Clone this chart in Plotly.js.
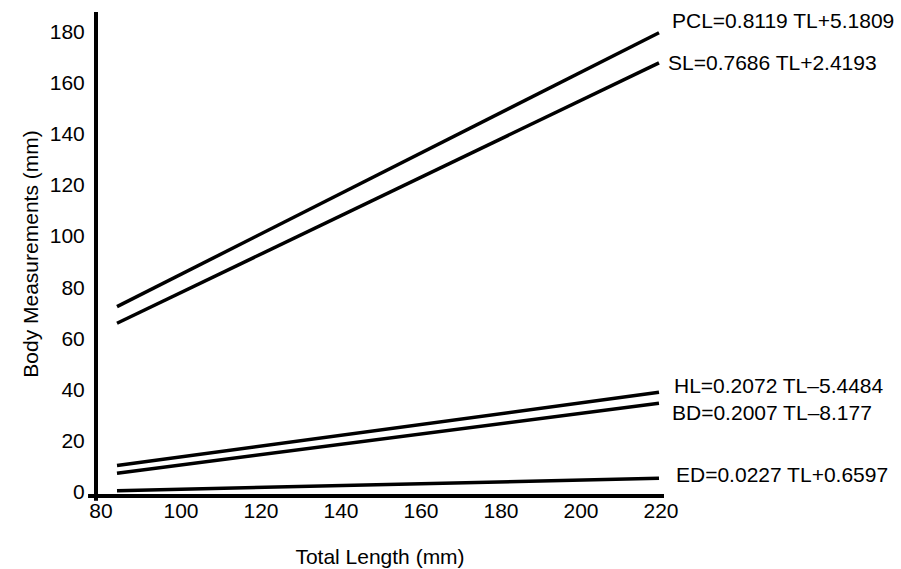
<!DOCTYPE html>
<html>
<head>
<meta charset="utf-8">
<script src="https://cdn.plot.ly/plotly-3.0.1.min.js"></script>
<style>html,body{margin:0;padding:0;background:#fff;}#chart{width:901px;height:569px;}</style>
</head>
<body>
<div id="chart"></div>
<script>
// Data (line end points)
const totalLength = [84, 219.5];
const PCL = [72.4, 179.6];
const SL = [65.9, 167.8];
const HL = [10.2, 38.9];
const BD = [7.2, 34.6];
const ED = [0.4, 5.2];
const seriesNames = ['PCL', 'SL', 'HL', 'BD', 'ED'];
const equations = [
  'PCL=0.8119 TL+5.1809',
  'SL=0.7686 TL+2.4193',
  'HL=0.2072 TL\u20135.4484',
  'BD=0.2007 TL\u20138.177',
  'ED=0.0227 TL+0.6597'
];
const labelY = [184.5, 168.1, 41.4, 31.0, 6.9];
const labelX = [222.3, 221.2, 222.8, 222.3, 223.3];
const xTicks = [80, 100, 120, 140, 160, 180, 200, 220];
const yTicks = [0, 20, 40, 60, 80, 100, 120, 140, 160, 180];

const xRange = [78.75, 220.75];
const seriesData = [PCL, SL, HL, BD, ED];
const font = 'Arial, "Liberation Sans", sans-serif';
const fs = 21;

const traces = seriesData.map((ys, i) => ({
  x: totalLength,
  y: ys,
  name: seriesNames[i],
  type: 'scatter',
  mode: 'lines',
  line: {color: '#000', width: 3.5},
  hoverinfo: 'skip',
  cliponaxis: false
}));

const annotations = equations.map((t, i) => ({
  x: (labelX[i] - xRange[0]) / (xRange[1] - xRange[0]), y: labelY[i],
  xref: 'paper', yref: 'y',
  text: t, showarrow: false, xanchor: 'left', yanchor: 'middle',
  font: {family: font, size: fs, color: '#000'}
}));

const layout = {
  width: 901, height: 569,
  margin: {l: 96, r: 237, t: 12, b: 73, pad: 0},
  paper_bgcolor: '#fff', plot_bgcolor: '#fff',
  showlegend: false,
  font: {family: font, color: '#000'},
  xaxis: {
    range: xRange,
    tickvals: xTicks, ticktext: xTicks.map(String),
    showgrid: false, zeroline: false, showline: false,
    ticks: '',
    tickfont: {family: font, size: fs, color: '#000'},
    title: {text: 'Total Length (mm)', font: {family: font, size: fs, color: '#000'}, standoff: 28}
  },
  yaxis: {
    range: [-1.7, 187.7],
    tickvals: yTicks, ticktext: yTicks.map(String),
    showgrid: false, zeroline: false, showline: false,
    ticks: 'outside', ticklen: 6, tickcolor: 'rgba(0,0,0,0)',
    tickfont: {family: font, size: fs, color: '#000'},
    title: {text: 'Body Measurements (mm)', font: {family: font, size: fs, color: '#000'}, standoff: 5}
  },
  shapes: [
    {type: 'line', xref: 'paper', yref: 'paper', x0: -0.014, x1: 1.0, y0: 0, y1: 0,
     line: {color: '#000', width: 4}},
    {type: 'line', xref: 'paper', yref: 'paper', x0: 0, x1: 0, y0: -0.01, y1: 1.0,
     line: {color: '#000', width: 4}}
  ],
  annotations: annotations
};

Plotly.newPlot('chart', traces, layout, {displayModeBar: false, staticPlot: true});
</script>
</body>
</html>
